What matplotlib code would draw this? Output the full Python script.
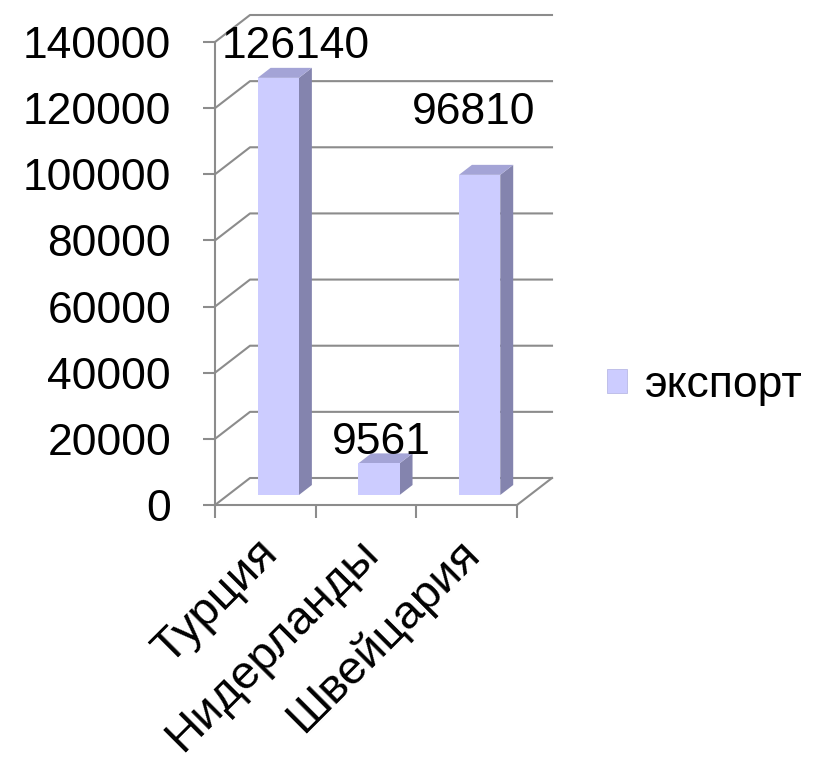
import matplotlib
matplotlib.use("Agg")
import matplotlib.pyplot as plt
import numpy as np
from matplotlib.patches import Polygon, Patch
from matplotlib.lines import Line2D
from matplotlib.transforms import IdentityTransform

plt.rcParams["font.family"] = ["Liberation Sans", "DejaVu Sans"]

# data
countries = ["Турция", "Нидерланды", "Швейцария"]
export = [126140, 9561, 96810]
y_ticks = [0, 20000, 40000, 60000, 80000, 100000, 120000, 140000]
series_name = "экспорт"

# label nudges (pixels) for the value labels, as Excel placed them
label_dx = [30, 15, 7]
label_dy = [41, 31, 72]

FRONT = "#CCCCFF"
SIDE = "#8484AE"
TOP = "#A4A4D6"
GRID = "#8C8C8C"
FS = 32

# fake 3-D depth, in pixels
DX, DY = 35, 27
D0, D1 = 0.37, 0.74
BAR_W = 0.41

W, H = 819, 766
fig = plt.figure(figsize=(W / 100, H / 100), dpi=100)
ax = fig.add_axes([215 / W, (H - 505) / H, 302 / W, 463 / H])
ax.set_xlim(-0.5, len(countries) - 0.5)
ax.set_ylim(0, y_ticks[-1])
ax.patch.set_visible(False)

for s in ("top", "right"):
    ax.spines[s].set_visible(False)
for s in ("left", "bottom"):
    ax.spines[s].set_color(GRID)
    ax.spines[s].set_linewidth(1.5)

ax.set_yticks(y_ticks, [str(t) for t in y_ticks])
ax.tick_params(axis="y", direction="out", length=8.6, width=1.5, color=GRID,
               labelsize=FS, pad=23)
edges = np.arange(len(countries) + 1) - 0.5
ax.set_xticks(edges, [""] * len(edges))
ax.tick_params(axis="x", which="major", direction="out", length=9.4, width=1.5, color=GRID)

# category names, rotated like Excel does it
for i, name in enumerate(countries):
    ax.annotate(name, xy=(i, 0), xycoords=("data", "axes fraction"),
                xytext=(-10, -26), textcoords="offset pixels",
                rotation=45, ha="right", va="top", rotation_mode="anchor",
                fontsize=34, annotation_clip=False)


def proj(x, v, d):
    px, py = ax.transData.transform((x, v))
    return (px + d * DX, py + d * DY)


ident = IdentityTransform()
x_left, x_right = edges[0], edges[-1]

# back wall gridlines + left wall diagonals
for t in y_ticks:
    pts = [proj(x_left, t, 0), proj(x_left, t, 1), proj(x_right, t, 1)]
    xs, ys = zip(*pts)
    ax.add_line(Line2D(xs, ys, color=GRID, lw=1.5, transform=ident, clip_on=False, zorder=1))
# floor right edge
pts = [proj(x_right, 0, 0), proj(x_right, 0, 1)]
xs, ys = zip(*pts)
ax.add_line(Line2D(xs, ys, color=GRID, lw=1.5, transform=ident, clip_on=False, zorder=1))

# bars
for i, v in enumerate(export):
    x0, x1 = i - BAR_W / 2, i + BAR_W / 2
    front = [proj(x0, 0, D0), proj(x1, 0, D0), proj(x1, v, D0), proj(x0, v, D0)]
    side = [proj(x1, 0, D0), proj(x1, 0, D1), proj(x1, v, D1), proj(x1, v, D0)]
    top = [proj(x0, v, D0), proj(x1, v, D0), proj(x1, v, D1), proj(x0, v, D1)]
    for poly, col in ((side, SIDE), (top, TOP), (front, FRONT)):
        ax.add_patch(Polygon(poly, closed=True, facecolor=col, edgecolor="none",
                             transform=ident, clip_on=False, zorder=3))
    ax.annotate(str(v), xy=(i, v), xytext=(label_dx[i], label_dy[i]),
                textcoords="offset pixels", ha="center", va="center",
                fontsize=FS, zorder=5, annotation_clip=False)

handle = Patch(facecolor=FRONT, edgecolor="#B0B0E0", linewidth=0.5)
fig.legend([handle], [series_name], loc="center left",
           bbox_to_anchor=(607 / W, (H - 385) / H), frameon=False, fontsize=FS,
           handlelength=0.45, handleheight=0.45, handletextpad=0.4, borderpad=0,
           borderaxespad=0)

fig.savefig("out.png", dpi=100)
